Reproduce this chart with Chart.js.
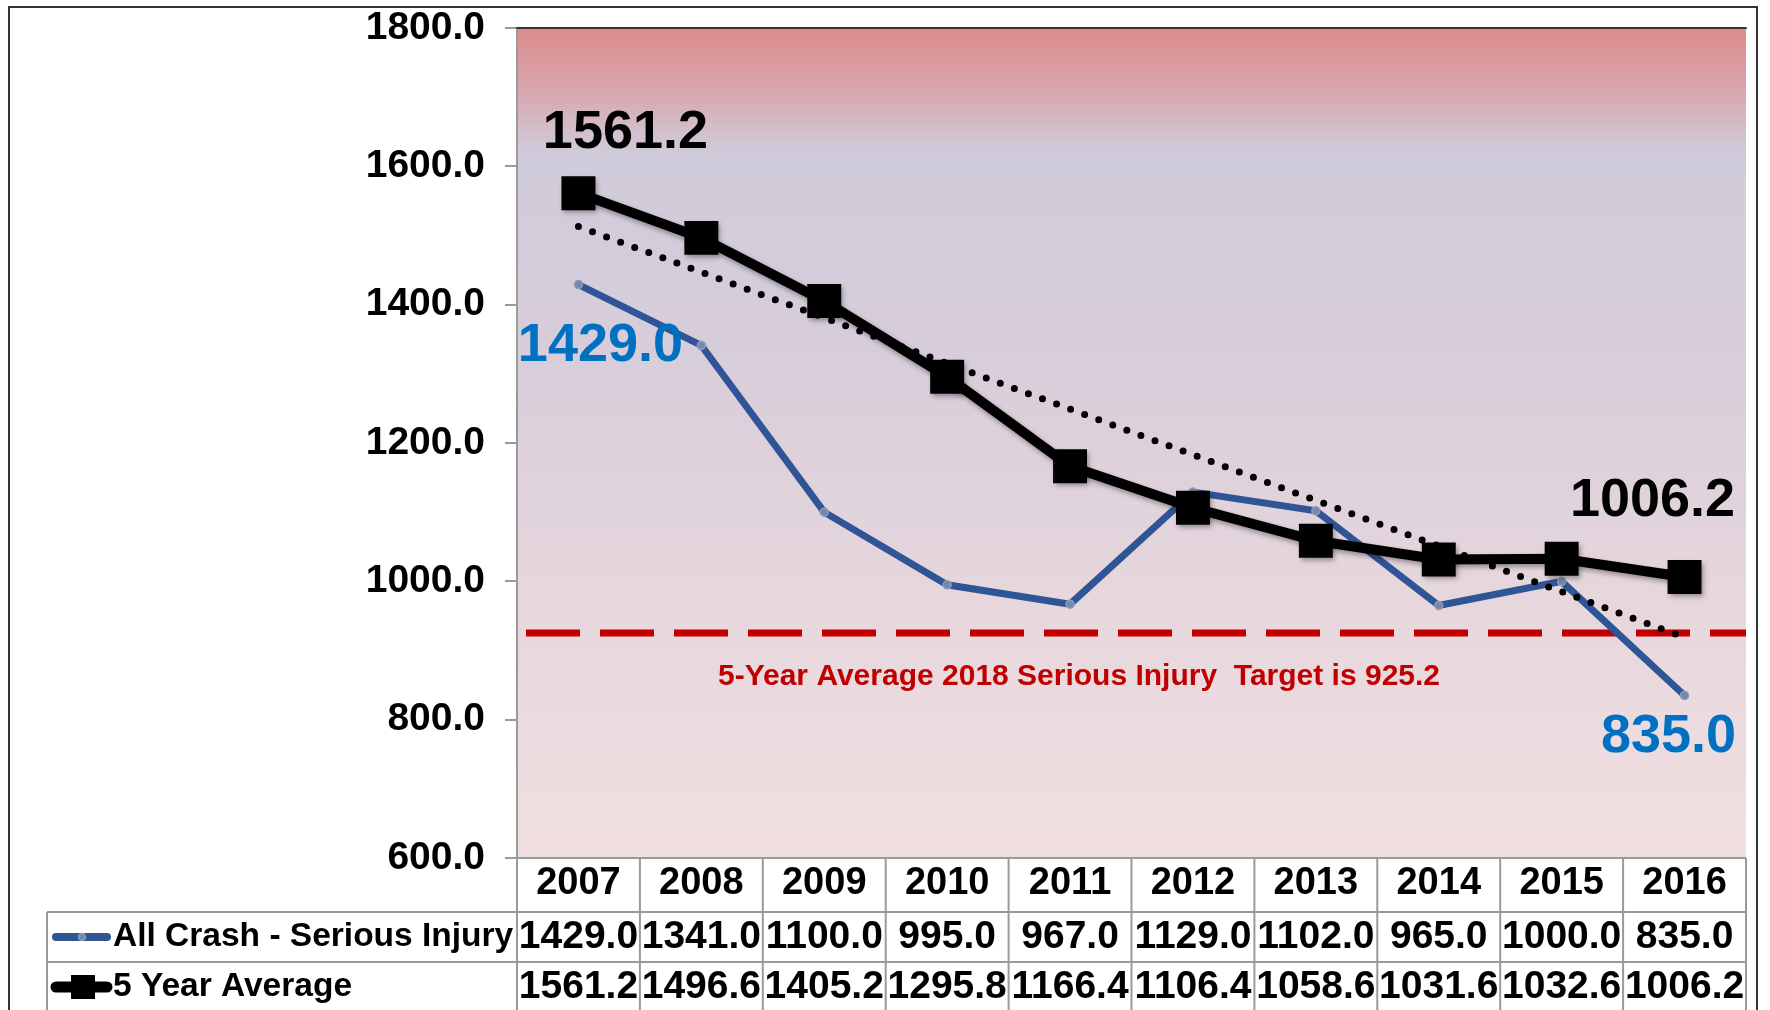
<!DOCTYPE html>
<html lang="en">
<head>
<meta charset="UTF-8">
<title>All Crash - Serious Injury, 5 Year Average</title>
<style>
  body { margin: 0; background: #ffffff; }
  #chartContainer { position: relative; width: 1770px; height: 1010px; }
</style>
<script src="https://cdn.jsdelivr.net/npm/chart.js"></script>
</head>
<body>
<div id="chartContainer"><canvas id="chartCanvas" width="1770" height="1010"></canvas></div>
<script>
  // values
  const years = ['2007', '2008', '2009', '2010', '2011', '2012', '2013', '2014', '2015', '2016'];
  const seriousInjury = [1429.0, 1341.0, 1100.0, 995.0, 967.0, 1129.0, 1102.0, 965.0, 1000.0, 835.0];
  const fiveYearAvg = [1561.2, 1496.6, 1405.2, 1295.8, 1166.4, 1106.4, 1058.6, 1031.6, 1032.6, 1006.2];
  // dotted trend: only its two end points
  const trendLine = [1513, null, null, null, null, null, null, null, null, 919];
  const seriesNames = ['All Crash - Serious Injury', '5 Year Average'];
  const targetValue = 925.2;
  const targetText = '5-Year Average 2018 Serious Injury  Target is 925.2';
  const yMin = 600, yMax = 1800, yStep = 200;

  const FONT = '"Liberation Sans", Arial, Helvetica, sans-serif';
  const BLUE = '#2F5597';
  const LABEL_BLUE = '#0070C0';
  const RED = '#C00000';
  const GRID = '#9a9a9a';

  // gradient fill of the plot area
  const plotBackground = {
    id: 'plotBackground',
    beforeDraw(chart) {
      const { ctx, chartArea: a } = chart;
      ctx.save();
      ctx.fillStyle = '#ffffff';
      ctx.fillRect(0, 0, chart.width, chart.height);
      const g = ctx.createLinearGradient(0, a.top, 0, a.bottom);
      g.addColorStop(0, '#DD8B8C');
      g.addColorStop(0.07, '#D8A4AC');
      g.addColorStop(0.15, '#D0CBDA');
      g.addColorStop(0.4, '#D8CDDA');
      g.addColorStop(0.7, '#E7D7DD');
      g.addColorStop(1, '#F1DFE0');
      ctx.fillStyle = g;
      ctx.fillRect(a.left, a.top, a.right - a.left, a.bottom - a.top);
      ctx.restore();
    },
    // dashed target line and its caption, under the series
    beforeDatasetsDraw(chart) {
      const { ctx, chartArea: a, scales: { y } } = chart;
      const ty = y.getPixelForValue(targetValue);
      ctx.save();
      ctx.strokeStyle = RED;
      ctx.lineWidth = 7;
      ctx.setLineDash([54, 20]);
      ctx.beginPath();
      ctx.moveTo(a.left + 9, ty);
      ctx.lineTo(a.right, ty);
      ctx.stroke();
      ctx.setLineDash([]);
      ctx.fillStyle = RED;
      ctx.font = 'bold 30px ' + FONT;
      ctx.textAlign = 'center';
      ctx.textBaseline = 'middle';
      ctx.fillText(targetText, 1079, ty + 44);
      ctx.restore();
    },
    // soft shadow under the 5 year average series
    beforeDatasetDraw(chart, args) {
      if (args.index !== 1) return;
      const ctx = chart.ctx;
      ctx.save();
      ctx.shadowColor = 'rgba(0,0,0,0.35)';
      ctx.shadowBlur = 5;
      ctx.shadowOffsetX = 2;
      ctx.shadowOffsetY = 3;
    },
    afterDatasetDraw(chart, args) {
      if (args.index !== 1) return;
      chart.ctx.restore();
    }
  };

  // big value labels at the first and last points
  const endLabels = {
    id: 'endLabels',
    afterDatasetsDraw(chart) {
      const { ctx } = chart;
      const avgMeta = chart.getDatasetMeta(1);
      const injMeta = chart.getDatasetMeta(2);
      const last = years.length - 1;
      const items = [
        { p: avgMeta.data[0], v: fiveYearAvg[0], dx: 47, dy: -60, c: '#000000' },
        { p: injMeta.data[0], v: seriousInjury[0], dx: 22, dy: 62, c: LABEL_BLUE },
        { p: avgMeta.data[last], v: fiveYearAvg[last], dx: -32, dy: -76, c: '#000000' },
        { p: injMeta.data[last], v: seriousInjury[last], dx: -16, dy: 42, c: LABEL_BLUE }
      ];
      ctx.save();
      ctx.font = 'bold 54px ' + FONT;
      ctx.textAlign = 'center';
      ctx.textBaseline = 'middle';
      items.forEach(it => {
        ctx.fillStyle = it.c;
        ctx.fillText(it.v.toFixed(1), it.p.x + it.dx, it.p.y + it.dy);
      });
      ctx.restore();
    }
  };

  // data table under the x axis, plus frame lines
  const dataTable = {
    id: 'dataTable',
    afterDraw(chart) {
      const { ctx, chartArea: a, scales: { x } } = chart;
      const rowH = 50;
      const top = x.bottom;
      const tableLeft = 47;
      ctx.save();
      ctx.strokeStyle = GRID;
      ctx.lineWidth = 2;
      ctx.beginPath();
      // axis line / table top
      ctx.moveTo(a.left - 12, a.bottom); ctx.lineTo(a.right, a.bottom);
      ctx.moveTo(tableLeft, top); ctx.lineTo(a.right, top);
      ctx.moveTo(tableLeft, top + rowH); ctx.lineTo(a.right, top + rowH);
      ctx.moveTo(tableLeft, top); ctx.lineTo(tableLeft, chart.height);
      for (let i = 0; i <= years.length; i++) {
        const bx = x.getPixelForValue(i - 0.5);
        ctx.moveTo(bx, a.bottom); ctx.lineTo(bx, chart.height);
      }
      ctx.stroke();

      // legend keys
      const c1 = top + rowH / 2, c2 = top + rowH * 1.5;
      ctx.lineCap = 'round';
      ctx.strokeStyle = BLUE;
      ctx.lineWidth = 8;
      ctx.beginPath(); ctx.moveTo(56, c1); ctx.lineTo(107, c1); ctx.stroke();
      ctx.fillStyle = '#7487AC';
      ctx.strokeStyle = '#8C9BB8';
      ctx.lineWidth = 1.5;
      ctx.beginPath(); ctx.arc(82, c1, 3.5, 0, Math.PI * 2); ctx.fill(); ctx.stroke();
      ctx.strokeStyle = '#000000';
      ctx.lineWidth = 11;
      ctx.beginPath(); ctx.moveTo(56, c2); ctx.lineTo(107, c2); ctx.stroke();
      ctx.fillStyle = '#000000';
      ctx.fillRect(71, c2 - 12, 24, 24);

      // row names and values
      ctx.textBaseline = 'middle';
      ctx.fillStyle = '#000000';
      ctx.font = 'bold 33.5px ' + FONT;
      ctx.textAlign = 'left';
      ctx.fillText(seriesNames[0], 113, c1);
      ctx.fillText(seriesNames[1], 113, c2);
      ctx.font = 'bold 39px ' + FONT;
      ctx.textAlign = 'center';
      years.forEach((yr, i) => {
        const cx = x.getPixelForValue(i);
        ctx.fillText(seriousInjury[i].toFixed(1), cx, c1);
        ctx.fillText(fiveYearAvg[i].toFixed(1), cx, c2);
      });

      // outer frame and plot top border
      ctx.strokeStyle = '#333333';
      ctx.lineWidth = 2;
      ctx.beginPath();
      ctx.moveTo(9, chart.height); ctx.lineTo(9, 7); ctx.lineTo(1757, 7); ctx.lineTo(1757, chart.height);
      ctx.moveTo(a.left, a.top); ctx.lineTo(a.right, a.top);
      ctx.stroke();
      ctx.restore();
    }
  };

  const ctx = document.getElementById('chartCanvas').getContext('2d');
  const chart = new Chart(ctx, {
    type: 'line',
    data: {
      labels: years,
      datasets: [
        {
          label: 'Trend',
          data: trendLine,
          spanGaps: true,
          borderColor: '#000000',
          borderWidth: 7,
          borderDash: [0, 15],
          borderCapStyle: 'round',
          pointRadius: 0,
          tension: 0
        },
        {
          label: seriesNames[1],
          data: fiveYearAvg,
          borderColor: '#000000',
          borderWidth: 10,
          pointStyle: 'rect',
          pointRadius: 24,
          pointBackgroundColor: '#000000',
          pointBorderColor: '#000000',
          pointBorderWidth: 0,
          tension: 0
        },
        {
          label: seriesNames[0],
          data: seriousInjury,
          borderColor: BLUE,
          borderWidth: 7,
          pointRadius: 4,
          pointBackgroundColor: '#7487AC',
          pointBorderColor: '#8C9BB8',
          pointBorderWidth: 1.5,
          tension: 0
        }
      ]
    },
    plugins: [plotBackground, endLabels, dataTable],
    options: {
      responsive: false,
      animation: false,
      layout: { padding: { left: 0, right: 15, top: 28, bottom: 98 } },
      plugins: {
        legend: { display: false },
        tooltip: { enabled: false },
        title: { display: false }
      },
      scales: {
        x: {
          offset: true,
          afterFit(scale) { scale.height = 54; },
          grid: { display: false, drawTicks: false },
          border: { display: false },
          ticks: {
            color: '#000000',
            padding: 3,
            maxRotation: 0,
            font: { family: FONT, size: 38, weight: 'bold' }
          }
        },
        y: {
          min: yMin,
          max: yMax,
          afterFit(scale) {
            scale.width = 517;
            // labels may hang over the plot top/bottom; keep plot edges fixed
            scale.paddingTop = 0;
            scale.paddingBottom = 0;
          },
          grid: { drawOnChartArea: false, drawTicks: true, tickLength: 12, color: GRID, lineWidth: 2 },
          border: { display: true, color: GRID, width: 2 },
          ticks: {
            stepSize: yStep,
            color: '#000000',
            padding: 20,
            font: { family: FONT, size: 39, weight: 'bold' },
            callback: v => Number(v).toFixed(1)
          }
        }
      }
    }
  });
</script>
</body>
</html>
